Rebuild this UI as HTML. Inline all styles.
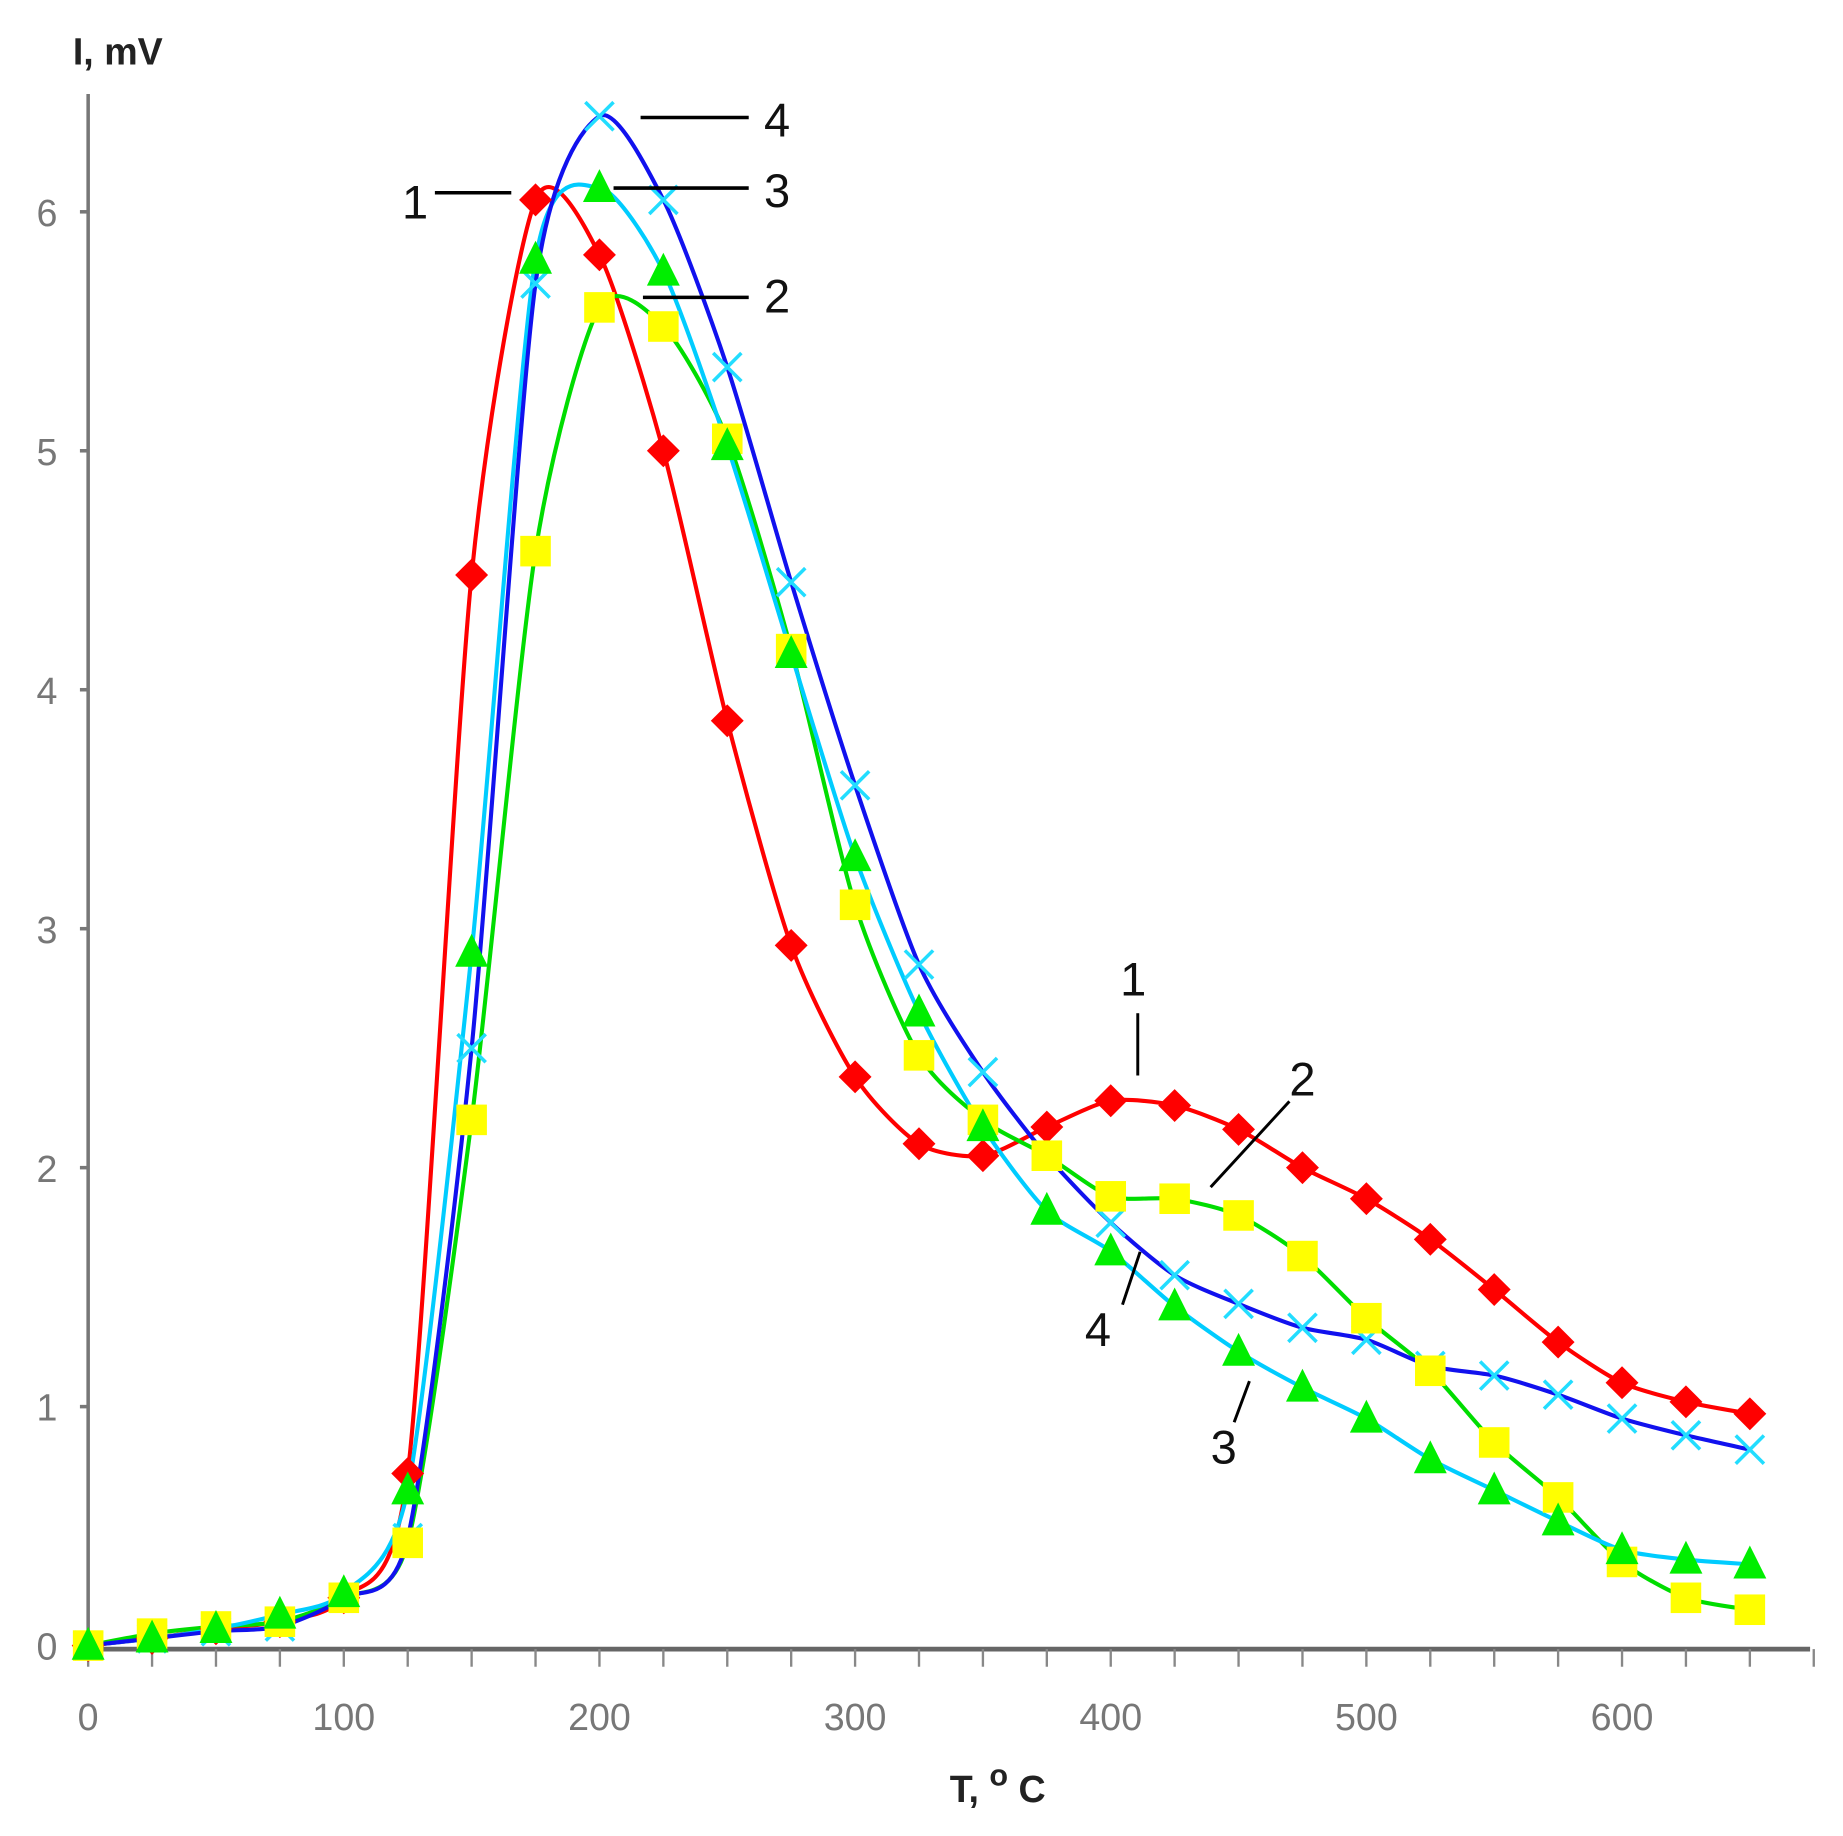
<!DOCTYPE html>
<html><head><meta charset="utf-8"><style>html,body{margin:0;padding:0;background:#fff}svg{display:block}</style></head>
<body>
<svg id="s" width="1843" height="1836" viewBox="0 0 1568 1562" preserveAspectRatio="none" xmlns="http://www.w3.org/2000/svg" font-family="Liberation Sans, sans-serif">
<rect width="1568" height="1562" fill="#fff"/>
<g id="axes"></g>
<g id="plot"></g>
<g font-size="40" fill="#111">
<text x="342" y="186">1</text><line x1="370" y1="164" x2="435" y2="164" stroke="#000" stroke-width="3"/>
<text x="650" y="116">4</text><line x1="545" y1="100" x2="637" y2="100" stroke="#000" stroke-width="3"/>
<text x="650" y="176">3</text><line x1="522" y1="160" x2="637" y2="160" stroke="#000" stroke-width="3"/>
<text x="650" y="266">2</text><line x1="547" y1="253" x2="637" y2="253" stroke="#000" stroke-width="3"/>
<text x="953" y="847">1</text><line x1="968" y1="862" x2="968" y2="915" stroke="#000" stroke-width="2.5"/>
<text x="1097" y="932">2</text><line x1="1097" y1="937" x2="1030" y2="1010" stroke="#000" stroke-width="2.5"/>
<text x="923" y="1145">4</text><line x1="955" y1="1110" x2="970" y2="1065" stroke="#000" stroke-width="2.5"/>
<text x="1030" y="1245">3</text><line x1="1050" y1="1210" x2="1063" y2="1175" stroke="#000" stroke-width="2.5"/>
</g>
<text x="62" y="55" font-size="32" font-weight="bold" fill="#222">I, mV</text>
<text x="808" y="1533" font-size="32" font-weight="bold" fill="#222">T, <tspan font-size="26" dy="-14">o</tspan><tspan dy="14"> C</tspan></text>
</svg>
<script>
const X=t=>75+t*2.175, Y=v=>1400-v*203.3;
const ns="http://www.w3.org/2000/svg";
function el(p,tag,a){const e=document.createElementNS(ns,tag);for(const k in a)e.setAttribute(k,a[k]);p.appendChild(e);return e;}
const ax=document.getElementById('axes'), pl=document.getElementById('plot');
el(ax,'line',{x1:75,y1:80,x2:75,y2:1403,stroke:'#777','stroke-width':3});
el(ax,'line',{x1:73,y1:1403,x2:1540,y2:1403,stroke:'#666','stroke-width':4});
for(let i=0;i<=27;i++){const x=X(i*25);el(ax,'line',{x1:x,y1:1403,x2:x,y2:1418,stroke:'#888','stroke-width':2});}
for(let i=0;i<=6;i++){el(ax,'line',{x1:68,y1:Y(i),x2:75,y2:Y(i),stroke:'#777','stroke-width':3});
 const t=el(ax,'text',{x:40,y:Y(i)+12,'font-size':32,fill:'#777','text-anchor':'middle'});t.textContent=i;}
for(let i=0;i<=6;i++){const t=el(ax,'text',{x:X(i*100),y:1472,'font-size':32,fill:'#777','text-anchor':'middle'});t.textContent=i*100;}
const s1=[0,.03,.07,.1,.2,.72,4.48,6.05,5.82,5.0,3.87,2.93,2.38,2.1,2.05,2.17,2.28,2.26,2.16,2.0,1.87,1.7,1.49,1.27,1.1,1.02,.97];
const s2=[0,.05,.08,.1,.2,.43,2.2,4.58,5.6,5.52,5.05,4.17,3.1,2.47,2.2,2.05,1.88,1.87,1.8,1.63,1.37,1.15,.85,.62,.35,.2,.15];
const s3=[0,.03,.07,.13,.22,.65,2.9,5.8,6.1,5.75,5.02,4.15,3.3,2.65,2.17,1.82,1.65,1.42,1.23,1.08,.95,.78,.65,.52,.4,.36,.34];
const s4=[0,.03,.06,.08,.2,.45,2.5,5.7,6.4,6.05,5.35,4.45,3.6,2.85,2.4,2.05,1.77,1.55,1.43,1.33,1.28,1.17,1.13,1.05,.95,.88,.82];
function path(d){const p=d.map((v,i)=>[X(i*25),Y(v)]);let s=`M${p[0][0]},${p[0][1]}`;
 for(let i=0;i<p.length-1;i++){const p0=p[Math.max(0,i-1)],p1=p[i],p2=p[i+1],p3=p[Math.min(p.length-1,i+2)];
 const k=8;s+=`C${p1[0]+(p2[0]-p0[0])/k},${p1[1]+(p2[1]-p0[1])/k} ${p2[0]-(p3[0]-p1[0])/k},${p2[1]-(p3[1]-p1[1])/k} ${p2[0]},${p2[1]}`;}
 return s;}
function line(d,c){el(pl,'path',{d:path(d),fill:'none',stroke:c,'stroke-width':3.5});}
line(s1,'#f00');line(s2,'#0d0');line(s3,'#0cf');line(s4,'#11e');
s4.forEach((v,i)=>{const x=X(i*25),y=Y(v),r=12;el(pl,'path',{d:`M${x-r},${y-r}L${x+r},${y+r}M${x-r},${y+r}L${x+r},${y-r}`,stroke:'#2df',"stroke-width":3});});
s1.forEach((v,i)=>{const x=X(i*25),y=Y(v),r=14;el(pl,'path',{d:`M${x},${y-r}L${x+r},${y}L${x},${y+r}L${x-r},${y}Z`,fill:'#f00'});});
s2.forEach((v,i)=>{const x=X(i*25),y=Y(v);el(pl,'rect',{x:x-13,y:y-13,width:26,height:26,fill:'#ff0'});});
s3.forEach((v,i)=>{const x=X(i*25),y=Y(v),r=14;el(pl,'path',{d:`M${x},${y-r-2}L${x+r},${y+r-2}L${x-r},${y+r-2}Z`,fill:'#0e0'});});
</script>
</body></html>
